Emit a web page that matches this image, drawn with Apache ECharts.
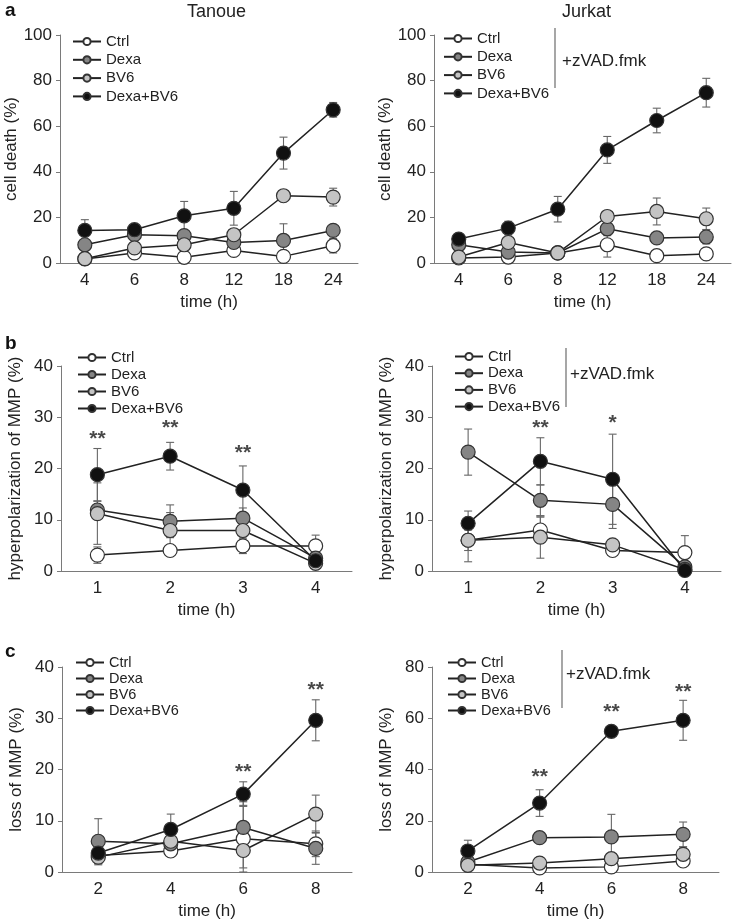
<!DOCTYPE html>
<html>
<head>
<meta charset="utf-8">
<script src="https://cdn.jsdelivr.net/npm/echarts@6/dist/echarts.min.js"></script>
<style>
html,body{margin:0;padding:0;background:#fff;}
#chart{width:738px;height:922px;}
</style>
</head>
<body>
<div id="chart"></div>
<script>
// ---------- data ----------
const seriesNames = ['Ctrl', 'Dexa', 'BV6', 'Dexa+BV6'];

const timesA = ['4', '6', '8', '12', '18', '24'];
const timesB = ['1', '2', '3', '4'];
const timesC = ['2', '4', '6', '8'];

// a: cell death, Tanoue
const tanCtrl = [1.8, 4.4, 2.5, 5.5, 2.9, 7.6];
const tanCtrlErr = [1, 1.2, 1, 1.5, 1, 3.2];
const tanDexa = [8, 12.4, 12, 9, 9.9, 14.3];
const tanDexaErr = [1.5, 1.5, 2, 1.5, 7.3, 2];
const tanBV6 = [1.9, 6.6, 8, 12.4, 29.5, 28.9];
const tanBV6Err = [1, 1.5, 1.5, 2, 1.5, 3.9];
const tanDB = [14.3, 14.6, 20.7, 24, 48.2, 67.2];
const tanDBErr = [4.7, 1, 6.3, 7.4, 7, 3.2];

// a: cell death, Jurkat
const jurCtrl = [2.2, 2.6, 4.4, 8, 3.2, 4];
const jurCtrlErr = [0.5, 1, 0.5, 5.4, 0.5, 0.8];
const jurDexa = [8, 4.8, 4.4, 15, 11, 11.4];
const jurDexaErr = [1, 2, 0.5, 3, 1.5, 3];
const jurBV6 = [2.6, 9, 4.4, 20.4, 22.6, 19.4];
const jurBV6Err = [0.5, 2, 0.5, 1.5, 5.9, 4.7];
const jurDB = [10.5, 15.3, 23.6, 49.6, 62.5, 74.7];
const jurDBErr = [1, 3, 5.6, 5.9, 5.4, 6.3];

// b: hyperpolarization, Tanoue
const hTanCtrl = [3.1, 4, 4.9, 4.9];
const hTanCtrlErr = [1.6, 1, 1.5, 2.1];
const hTanDexa = [11.9, 9.7, 10.3, 2.5];
const hTanDexaErr = [1.7, 3.2, 2, 1];
const hTanBV6 = [11.2, 7.9, 7.9, 1.5];
const hTanBV6Err = [6, 3.5, 3, 0.5];
const hTanDB = [18.8, 22.4, 15.8, 2];
const hTanDBErr = [5.1, 2.7, 4.7, 0.5];

// b: hyperpolarization, Jurkat
const hJurCtrl = [6, 8, 4, 3.6];
const hJurCtrlErr = [2, 2.5, 0.5, 3.3];
const hJurDexa = [23.2, 13.8, 13, 0.8];
const hJurDexaErr = [4.5, 3, 4.7, 0.5];
const hJurBV6 = [6, 6.6, 5.1, 0.3];
const hJurBV6Err = [4.2, 4.1, 1, 0.3];
const hJurDB = [9.3, 21.4, 17.9, 0.1];
const hJurDBErr = [2.4, 4.6, 8.8, 0.1];

// c: loss of MMP, Tanoue
const lTanCtrl = [3.2, 4.1, 6.5, 5.5];
const lTanCtrlErr = [1.5, 0.8, 6.5, 2.5];
const lTanDexa = [6, 5.5, 8.7, 4.6];
const lTanDexaErr = [4.4, 1, 5, 3.1];
const lTanBV6 = [2.9, 6, 4.2, 11.3];
const lTanBV6Err = [1.5, 1, 3.4, 3.7];
const lTanDB = [3.7, 8.3, 15.2, 29.6];
const lTanDBErr = [2, 3, 2.4, 4];

// c: loss of MMP, Jurkat
const lJurCtrl = [3, 1.6, 2, 4.3];
const lJurCtrlErr = [1, 0.5, 0.5, 1.5];
const lJurDexa = [3.9, 13.4, 13.7, 14.7];
const lJurDexaErr = [1, 1.5, 8.8, 4.8];
const lJurBV6 = [2.6, 3.5, 5.2, 6.9];
const lJurBV6Err = [0.5, 0.8, 1.5, 2.5];
const lJurDB = [8.2, 26.9, 54.9, 59.2];
const lJurDBErr = [4.2, 5.2, 1, 7.8];

// significance marks
const sigHTan = ['**', '**', '**', ''];
const sigHTanY = [25.8, 27.8, 22.9, null];
const sigHJur = ['', '**', '*', ''];
const sigHJurY = [null, 27.8, 28.8, null];
const sigLTan = ['', '', '**', '**'];
const sigLTanY = [null, null, 19.5, 35.4];
const sigLJur = ['', '**', '**', '**'];
const sigLJurY = [null, 37, 62.4, 70.2];

// y-axis settings
const yMaxA = 100, yIntA = 20;
const yMaxB = 40, yIntB = 10;
const yMaxCL = 40, yIntCL = 10;
const yMaxCR = 80, yIntCR = 20;

// ---------- styling ----------
const FONT = 'Liberation Sans, Arial, Helvetica, sans-serif';
const fills = ['#ffffff', '#858585', '#c4c4c4', '#111111'];
const edge = '#333333';

const panels = [
  { grid: {left: 60, top: 35, width: 298, height: 228}, cats: timesA, yMax: yMaxA, yInt: yIntA, yName: 'cell death (%)',
    vals: [tanCtrl, tanDexa, tanBV6, tanDB], errs: [tanCtrlErr, tanDexaErr, tanBV6Err, tanDBErr],
    legend: {left: 72, top: 34, gap: 3.3, fs: 15} },
  { grid: {left: 434, top: 35, width: 297, height: 228}, cats: timesA, yMax: yMaxA, yInt: yIntA, yName: 'cell death (%)',
    vals: [jurCtrl, jurDexa, jurBV6, jurDB], errs: [jurCtrlErr, jurDexaErr, jurBV6Err, jurDBErr],
    legend: {left: 443, top: 31, gap: 3.3, fs: 15} },
  { grid: {left: 61, top: 366, width: 291, height: 205}, cats: timesB, yMax: yMaxB, yInt: yIntB, yName: 'hyperpolarization of MMP (%)',
    vals: [hTanCtrl, hTanDexa, hTanBV6, hTanDB], errs: [hTanCtrlErr, hTanDexaErr, hTanBV6Err, hTanDBErr],
    sig: sigHTan, sigY: sigHTanY,
    legend: {left: 77, top: 350, gap: 2, fs: 15} },
  { grid: {left: 432, top: 366, width: 289, height: 205}, cats: timesB, yMax: yMaxB, yInt: yIntB, yName: 'hyperpolarization of MMP (%)',
    vals: [hJurCtrl, hJurDexa, hJurBV6, hJurDB], errs: [hJurCtrlErr, hJurDexaErr, hJurBV6Err, hJurDBErr],
    sig: sigHJur, sigY: sigHJurY,
    legend: {left: 454, top: 349, gap: 1.7, fs: 15} },
  { grid: {left: 62, top: 667, width: 290, height: 205}, cats: timesC, yMax: yMaxCL, yInt: yIntCL, yName: 'loss of MMP (%)',
    vals: [lTanCtrl, lTanDexa, lTanBV6, lTanDB], errs: [lTanCtrlErr, lTanDexaErr, lTanBV6Err, lTanDBErr],
    sig: sigLTan, sigY: sigLTanY,
    legend: {left: 75, top: 655, gap: 1, fs: 14.5} },
  { grid: {left: 432, top: 667, width: 287, height: 205}, cats: timesC, yMax: yMaxCR, yInt: yIntCR, yName: 'loss of MMP (%)',
    vals: [lJurCtrl, lJurDexa, lJurBV6, lJurDB], errs: [lJurCtrlErr, lJurDexaErr, lJurBV6Err, lJurDBErr],
    sig: sigLJur, sigY: sigLJurY,
    legend: {left: 447, top: 655, gap: 1, fs: 14.5} }
];

const grids = [], xAxes = [], yAxes = [], series = [], legends = [];

function errRender(params, api) {
  const x = api.value(0), y = api.value(1), e = api.value(2);
  if (!e) return null;
  const t = api.coord([x, y + e]);
  const b = api.coord([x, Math.max(0, y - e)]);
  const hw = 4;
  const st = {stroke: '#666666', lineWidth: 1.1};
  return {type: 'group', children: [
    {type: 'line', shape: {x1: t[0], y1: t[1], x2: b[0], y2: b[1]}, style: st},
    {type: 'line', shape: {x1: t[0] - hw, y1: t[1], x2: t[0] + hw, y2: t[1]}, style: st},
    {type: 'line', shape: {x1: b[0] - hw, y1: b[1], x2: b[0] + hw, y2: b[1]}, style: st}
  ]};
}

panels.forEach((p, i) => {
  grids.push(Object.assign({containLabel: false}, p.grid));
  xAxes.push({
    type: 'category', gridIndex: i, data: p.cats, boundaryGap: true,
    name: 'time (h)', nameLocation: 'middle', nameGap: 31,
    nameTextStyle: {fontFamily: FONT, fontSize: 17, color: '#222'},
    axisLine: {lineStyle: {color: '#7a7a7a', width: 1}},
    axisTick: {alignWithLabel: true, length: 4, lineStyle: {color: '#7a7a7a'}},
    axisLabel: {fontFamily: FONT, fontSize: 17, color: '#222', margin: 9},
    splitLine: {show: false}
  });
  yAxes.push({
    type: 'value', gridIndex: i, min: 0, max: p.yMax, interval: p.yInt,
    name: p.yName, nameLocation: 'middle', nameGap: 37, nameRotate: 90,
    nameTextStyle: {fontFamily: FONT, fontSize: 17, color: '#222'},
    axisLine: {show: true, lineStyle: {color: '#7a7a7a', width: 1}},
    axisTick: {show: true, length: 4, lineStyle: {color: '#7a7a7a'}},
    axisLabel: {fontFamily: FONT, fontSize: 17, color: '#222', margin: 8},
    splitLine: {show: false}
  });
  // error bars
  p.vals.forEach((v, k) => {
    series.push({
      type: 'custom', name: 'err' + i + '_' + k, xAxisIndex: i, yAxisIndex: i,
      renderItem: errRender, encode: {x: 0, y: 1}, z: 1, silent: true,
      data: v.map((val, j) => [j, val, p.errs[k][j]])
    });
  });
  // lines
  p.vals.forEach((v, k) => {
    series.push({
      type: 'line', name: seriesNames[k], xAxisIndex: i, yAxisIndex: i, data: v,
      symbol: 'circle', symbolSize: 14, showAllSymbol: true, z: 3 + k,
      lineStyle: {color: '#222222', width: 1.5},
      itemStyle: {color: fills[k], borderColor: edge, borderWidth: 1.2},
      emphasis: {disabled: true}
    });
  });
  // significance marks
  if (p.sig) {
    const d = [];
    p.sig.forEach((s, j) => { if (s) d.push({value: [j, p.sigY[j]], txt: s}); });
    series.push({
      type: 'scatter', name: 'sig' + i, xAxisIndex: i, yAxisIndex: i, symbolSize: 0, z: 10,
      data: d,
      label: {show: true, position: 'inside', formatter: (q) => q.data.txt,
        fontFamily: FONT, fontSize: 21, fontWeight: 'bold', color: '#1a1a1a'}
    });
  }
  legends.push({
    orient: 'vertical', left: p.legend.left, top: p.legend.top, padding: 0,
    itemGap: p.legend.gap, itemWidth: 28, itemHeight: 9, selectedMode: false,
    data: seriesNames,
    textStyle: {fontFamily: FONT, fontSize: p.legend.fs, lineHeight: p.legend.fs, color: '#222', padding: [0, 0, 0, 0]}
  });
});

const txt = (x, y, s, fs, bold) => ({type: 'text', left: x, top: y,
  style: {text: s, font: (bold ? 'bold ' : '') + fs + 'px ' + FONT, fill: '#111'}});
const vline = (x, y1, y2) => ({type: 'line', shape: {x1: x, y1: y1, x2: x, y2: y2}, style: {stroke: '#777', lineWidth: 1.3}});

const graphics = [
  txt(5, 1, 'a', 19, true),
  txt(5, 334, 'b', 19, true),
  txt(5, 642, 'c', 19, true),
  {type: 'text', left: 187, top: 3, style: {text: 'Tanoue', font: '18px ' + FONT, fill: '#222'}},
  {type: 'text', left: 562, top: 3, style: {text: 'Jurkat', font: '18px ' + FONT, fill: '#222'}},
  vline(555, 28, 88),
  {type: 'text', left: 562, top: 53, style: {text: '+zVAD.fmk', font: '17px ' + FONT, fill: '#222'}},
  vline(566, 348, 407),
  {type: 'text', left: 570, top: 366, style: {text: '+zVAD.fmk', font: '17px ' + FONT, fill: '#222'}},
  vline(562, 650, 708),
  {type: 'text', left: 566, top: 666, style: {text: '+zVAD.fmk', font: '17px ' + FONT, fill: '#222'}}
];

const chart = echarts.init(document.getElementById('chart'), null, {renderer: 'canvas'});
chart.setOption({
  animation: false,
  backgroundColor: '#ffffff',
  textStyle: {fontFamily: FONT},
  grid: grids, xAxis: xAxes, yAxis: yAxes, legend: legends, series: series,
  graphic: graphics
});
</script>
</body>
</html>
